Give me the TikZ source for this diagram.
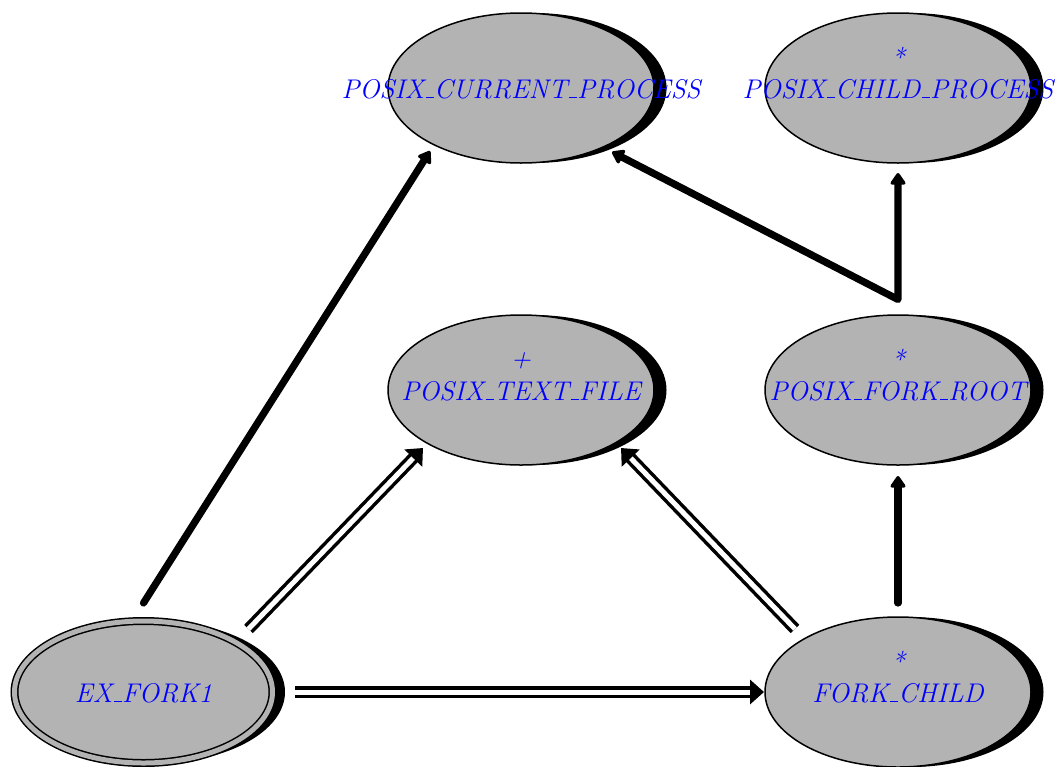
\documentclass[tikz,border=0pt]{standalone}
\usetikzlibrary{shapes.geometric, shadows, arrows.meta, calc}
\definecolor{clsgray}{RGB}{179,179,179}
\definecolor{clsblue}{RGB}{0,0,255}
% short low underscore, as in the classic Computer Modern \_
\newcommand\usc{\leavevmode\kern.06em\vbox{\hrule width .3em height .05em}}
\tikzset{
  cls/.style={ellipse, draw=black, line width=1.5pt, fill=clsgray,
    minimum width=266pt, minimum height=150pt, inner sep=0pt,
    general shadow={fill=black, shadow xshift=12.5pt}},
  rootcls/.style={cls, double=clsgray, double distance=5pt,
    minimum width=258pt, minimum height=142pt},
  clsname/.style={font=\fontsize{27}{31}\selectfont\itshape, text=clsblue,
    anchor=base, inner sep=0pt},
  thicktip/.tip={Triangle[round, length=13pt, width=17pt]},
  client/.style={line width=7.2pt, line cap=round, line join=round, -thicktip},
  inherit/.style={double, line width=3.5pt, double distance=5pt,
    -{Triangle[length=14pt, width=24pt]}}
}
\begin{document}
\begin{tikzpicture}[x=1pt, y=-1pt]
\useasboundingbox (0,0) rectangle (1059,766);

% classes
\node[cls]     (cur)    at (521,88)    {};
\node[cls]     (child)  at (898,88)    {};
\node[cls]     (text)   at (521,390)   {};
\node[cls]     (root)   at (898,390)   {};
\node[rootcls] (ex1)    at (143.5,692) {};
\node[cls]     (fchild) at (898,692)   {};

% class names and markers
\node[clsname] (cur-n)    at ($(cur)+(0,10)$)     {POSIX\usc CURRENT\usc PROCESS};
\node[clsname] (child-m)  at ($(child)+(0,-21)$)  {*};
\node[clsname] (child-n)  at ($(child)+(0,10)$)   {POSIX\usc CHILD\usc PROCESS};
\node[clsname] (text-m)   at ($(text)+(0,-23)$)   {+};
\node[clsname] (text-n)   at ($(text)+(0,10)$)    {POSIX\usc TEXT\usc FILE};
\node[clsname] (root-m)   at ($(root)+(0,-21)$)   {*};
\node[clsname] (root-n)   at ($(root)+(0,10)$)    {POSIX\usc FORK\usc ROOT};
\node[clsname] (ex1-n)    at ($(ex1)+(0,10)$)     {EX\usc FORK1};
\node[clsname] (fchild-m) at ($(fchild)+(0,-21)$) {*};
\node[clsname] (fchild-n) at ($(fchild)+(0,10)$)  {FORK\usc CHILD};

% client relations
\draw[client] ($(ex1)+(0,-89)$) -- ($(cur)+(-91,63)$);
\draw[client, thicktip-thicktip] ($(cur)+(91,64)$) -- ($(root)+(0,-90.5)$) -- ($(child)+(0,85)$);
\draw[client] ($(fchild)+(0,-89)$) -- ($(root)+(0,86)$);

% inheritance relations
\draw[inherit] ($(ex1)+(105,-63)$) -- ($(text)+(-98,58)$);
\draw[inherit] ($(fchild)+(-103,-63)$) -- ($(text)+(100,58)$);
\draw[inherit] ($(ex1)+(151.5,0)$) -- ($(fchild)+(-134,0)$);
\end{tikzpicture}
\end{document}
